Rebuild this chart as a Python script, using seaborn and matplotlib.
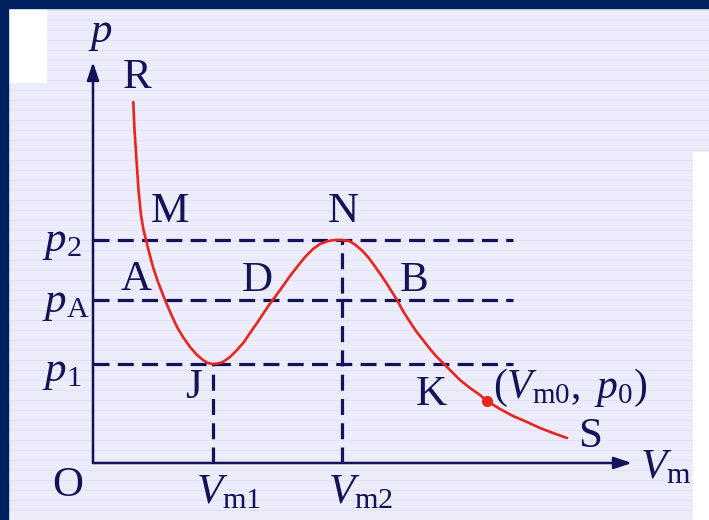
import matplotlib
matplotlib.use("Agg")
import matplotlib.pyplot as plt
from matplotlib.patches import Rectangle
import seaborn as sns
import numpy as np

sns.set_theme(style="white")
plt.rcParams["font.family"] = ["Liberation Serif", "DejaVu Serif"]
plt.rcParams["mathtext.fontset"] = "custom"
plt.rcParams["mathtext.rm"] = "Liberation Serif"
plt.rcParams["mathtext.it"] = "Liberation Serif:italic"

# Van der Waals isotherm R -> J (min) -> N (max) -> S, arbitrary units
vm = [40.3, 41.5, 43.5, 45.5, 48, 50.5, 53, 56, 60, 65, 72, 78, 84, 90, 97, 104,
      110, 115, 120, 125, 130, 137, 144, 151, 157, 164, 170, 176, 182, 190, 197,
      204, 212, 220, 227, 235, 242, 249, 256, 262, 269, 275, 281, 288, 294, 299,
      304, 310, 317, 323, 330, 337, 343, 350, 359, 367, 377, 387, 394, 407, 420,
      434, 447, 460, 474]
p = [361, 333, 303, 273, 248, 233, 223, 211, 196, 181, 163, 149, 136, 126, 116, 108,
     103, 100, 99, 99.5, 101, 106, 113, 121, 130, 140, 149, 158, 166, 177, 187,
     196, 206, 214, 219, 222, 223, 223, 222, 218.5, 212.5, 206, 198, 188, 179, 171,
     163, 152, 141, 132, 123, 114, 107, 100, 91, 83, 75, 68, 62, 54, 47,
     41, 35, 30, 25]

p_levels = [223, 163, 99]              # p2, pA, p1
p_labels = [r"$p_2$", r"$p_\mathrm{A}$", r"$p_1$"]
v_levels = [120, 249]                  # Vm1, Vm2
v_tops = [99, 223]
v_labels = [r"$V_\mathrm{m1}$", r"$V_\mathrm{m2}$"]
state_point = (394, 62)                # (Vm0, p0)

point_names = ["R", "M", "A", "D", "J", "N", "B", "K", "S"]
point_pos = [(44, 385), (77, 251), (43, 183), (164, 182), (100, 75),
             (250, 251), (321, 182), (338, 68), (497, 26)]

navy = "#13135a"
red = "#e8251c"

fig = plt.figure(figsize=(7.09, 5.20), dpi=100)
fig.patch.set_facecolor("#ececfa")

# slide background: lined lavender, navy frame, white patches
for yy in np.arange(0.0, 1.0, 10 / 520):
    fig.add_artist(plt.Line2D([0, 1], [yy, yy], color="#e2e2f3", lw=0.8, zorder=0))
fig.add_artist(Rectangle((8 / 709, 1 - 82 / 520), 38 / 709, 74 / 520,
                         transform=fig.transFigure, color="white", zorder=1))
fig.add_artist(Rectangle((693 / 709, 0), 16 / 709, 1 - 152 / 520,
                         transform=fig.transFigure, color="white", zorder=1))
fig.add_artist(Rectangle((0, 1 - 8 / 520), 1, 8 / 520,
                         transform=fig.transFigure, color="#002060", zorder=2))
fig.add_artist(Rectangle((0, 0), 8 / 709, 1,
                         transform=fig.transFigure, color="#002060", zorder=2))

ax = fig.add_axes([0, 0, 1, 1])
ax.set_facecolor("none")
ax.set_xlim(-93, 616)
ax.set_ylim(-57, 463)
ax.axis("off")

# axes with arrows
arrow = dict(arrowstyle="-|>,head_length=0.9,head_width=0.3", color=navy, lw=1.8,
             shrinkA=0, shrinkB=0)
ax.annotate("", xy=(0, 401), xytext=(0, 0), arrowprops=arrow)
ax.annotate("", xy=(539, 0), xytext=(0, 0), arrowprops=arrow)

dash = dict(color=navy, lw=2.3, linestyle=(0, (5, 2.6)))
for lvl in p_levels:
    ax.plot([0, 420], [lvl, lvl], **dash)
for vx, top in zip(v_levels, v_tops):
    ax.plot([vx, vx], [0, top], **dash)

sns.lineplot(x=vm, y=p, sort=False, color=red, lw=1.9, ax=ax, zorder=5)
ax.plot(*state_point, "o", color=red, ms=7, zorder=6)

fs = 31
for name, (x, y) in zip(point_names, point_pos):
    ax.text(x, y, name, fontsize=fs, color=navy, ha="center", va="center")
ax.text(-25, -23, "O", fontsize=fs, color=navy, ha="center", va="center")
ax.text(7, 421, r"$p$", fontsize=fs, color=navy, ha="center", va="baseline")

for lvl_y, lab in zip([212, 151, 82], p_labels):
    ax.text(-51, lvl_y, lab, fontsize=fs, color=navy, ha="left", va="baseline")
for vx, lab in zip([135, 268], v_labels):
    ax.text(vx, -40, lab, fontsize=fs, color=navy, ha="center", va="baseline")
ax.text(547, -15, r"$V_\mathrm{m}$", fontsize=fs, color=navy, ha="left", va="baseline")
ax.text(400, 65, r"$(V_\mathrm{m0},\ p_0)$", fontsize=30, color=navy,
        ha="left", va="baseline")

fig.savefig("out.png", dpi=100)
